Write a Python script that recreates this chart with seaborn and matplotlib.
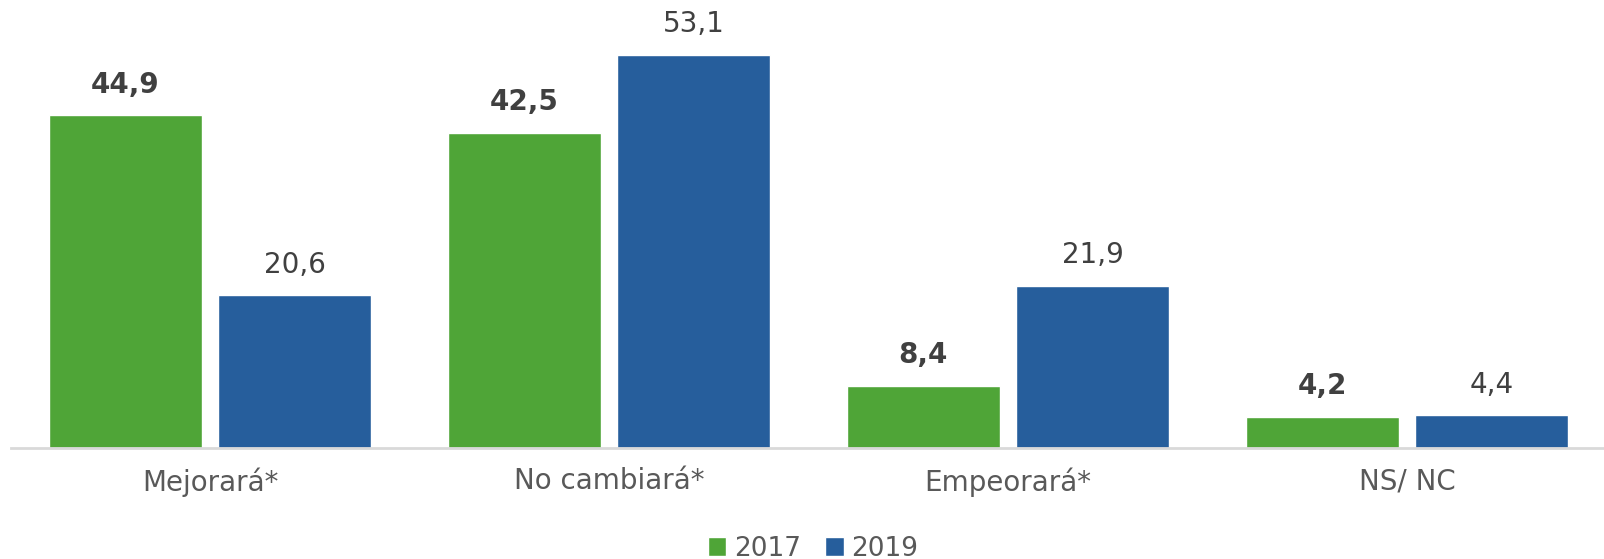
import matplotlib
matplotlib.use("Agg")
import matplotlib.pyplot as plt
import seaborn as sns
import pandas as pd

categories = ["Mejorará*", "No cambiará*", "Empeorará*", "NS/ NC"]
years = ["2017", "2019"]
values_2017 = [44.9, 42.5, 8.4, 4.2]
values_2019 = [20.6, 53.1, 21.9, 4.4]
colors = ["#4FA537", "#265E9C"]

df = pd.DataFrame({
    "cat": categories * 2,
    "year": [years[0]] * 4 + [years[1]] * 4,
    "val": values_2017 + values_2019,
})

sns.set_theme(style="white")
plt.rcParams["font.family"] = ["DejaVu Sans"]

fig = plt.figure(figsize=(16.04, 5.59), dpi=100)
ax = fig.add_axes([10.5 / 1604, 1 - 448 / 559, 1596 / 1604, 443 / 559])
sns.barplot(data=df, x="cat", y="val", hue="year", palette=colors,
            width=0.849, gap=0.097, ax=ax, saturation=1)

ax.set_ylim(0, 59.8)
ax.set_xlim(-0.5, 3.5)
ax.set_xlabel("")
ax.set_ylabel("")
ax.set_yticks([])
for s in ["top", "right", "left"]:
    ax.spines[s].set_visible(False)
ax.spines["bottom"].set_color("#D9D9D9")
ax.spines["bottom"].set_linewidth(2)
ax.spines["bottom"].set_clip_on(False)
ax.tick_params(axis="x", length=0, pad=14, labelsize=20, labelcolor="#595959")

for i, cont in enumerate(ax.containers):
    labels = [f"{v:.1f}".replace(".", ",") for v in cont.datavalues]
    ax.bar_label(cont, labels=labels, padding=12, fontsize=20,
                 color="#404040", fontweight="bold" if i == 0 else "normal")

leg = ax.legend(loc="lower center", bbox_to_anchor=(0.503, -0.31), ncol=2,
                frameon=False, fontsize=19, handlelength=0.7, handleheight=0.7,
                handletextpad=0.3, columnspacing=0.9)
for t in leg.get_texts():
    t.set_color("#595959")

fig.savefig("out.png", dpi=100)
